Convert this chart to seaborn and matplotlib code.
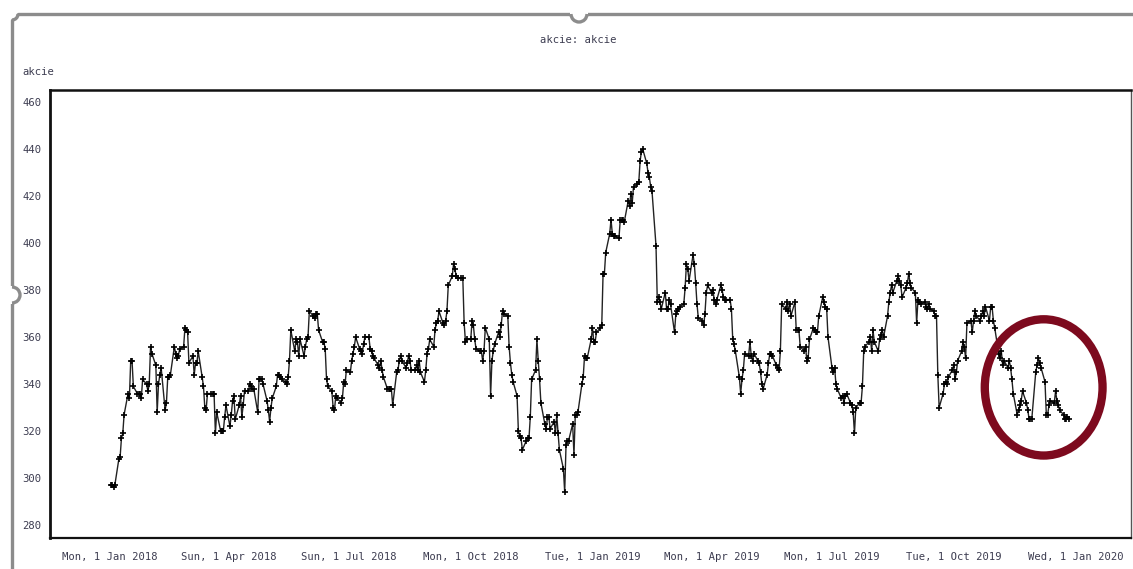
import pandas as pd
import numpy as np
import matplotlib
matplotlib.use("Agg")
import matplotlib.pyplot as plt
import matplotlib.dates as mdates
from matplotlib.patches import Ellipse, Arc, Rectangle
from matplotlib.lines import Line2D
import seaborn as sns

# Daily closing values, business days from 2 Jan 2018
seg_2018_h1 = [
    297, 297, 296, 297, 308, 309, 317, 319, 327, 336,
    334, 350, 350, 339, 336, 336, 336, 334, 342, 340,
    337, 340, 356, 353, 348, 328, 340, 344, 347, 329,
    332, 343, 343, 344, 356, 353, 351, 352, 355, 356,
    364, 363, 362, 349, 352, 344, 349, 349, 354, 343,
    339, 330, 329, 336, 336, 336, 336, 319, 328, 320,
    320, 320, 326, 331, 322, 327, 333, 335, 325, 331,
    335, 326, 331, 337, 337, 340, 339, 338, 338, 328,
    342, 342, 342, 340, 333, 329, 324, 330, 334, 339,
    344, 344, 343, 342, 341, 340, 343, 350, 363, 354,
    359, 358, 352, 359, 352, 356, 359, 360, 371, 369,
    368, 370, 370, 363, 358, 358, 355, 342, 339, 337,
    330, 329,
]
seg_2018_h2 = [
    335, 334, 332, 334, 341, 340, 346, 345, 350, 353,
    356, 360, 355, 354, 353, 357, 360, 360, 355, 354,
    352, 351, 348, 347, 350, 346, 343, 338, 338, 338,
    338, 331, 345, 346, 350, 352, 350, 347, 349, 352,
    350, 346, 346, 348, 346, 350, 345, 341, 346, 353,
    355, 359, 356, 363, 366, 367, 371, 366, 365, 367,
    371, 382, 386, 391, 389, 386, 385, 385, 385, 366,
    358, 359, 359, 367, 365, 359, 355, 354, 354, 350,
    354, 364, 359, 335, 350, 354, 357, 362, 360, 365,
    371, 370, 369, 356, 349, 344, 341, 335, 320, 318,
    317, 312, 316, 317, 317, 326, 342, 346, 359, 350,
    342, 332, 323, 321, 326, 326, 321, 324, 319, 327,
    319, 312, 304, 294, 314, 316, 316, 323, 310, 327,
    327, 328, 340, 343, 352, 351,
]
seg_2019_h1 = [
    351, 359, 364, 358, 358, 362, 364, 365, 387, 387,
    396, 404, 410, 404, 403, 403, 402, 410, 410, 410,
    409, 418, 416, 421, 417, 424, 425, 426, 435, 439,
    440, 434, 430, 428, 424, 422, 399, 375, 377, 375,
    372, 379, 372, 372, 376, 374, 362, 370, 371, 372,
    373, 374, 381, 391, 389, 384, 395, 391, 383, 374,
    368, 367, 365, 370, 379, 382, 379, 380, 376, 374,
    376, 382, 380, 377, 376, 376, 376, 372, 359, 357,
    354, 343, 336, 342, 346, 353, 352, 358, 352, 350,
    353, 350, 349, 345, 340, 338, 344, 349, 353, 353,
    352, 348, 347, 346, 354, 374, 372, 375, 371, 374,
    369, 375, 363, 363, 363, 356, 354, 356, 350, 351,
    359, 364, 363, 362, 362, 369, 377, 375, 373, 372,
    360, 347, 345,
]
seg_2019_h2 = [
    347, 340, 338, 334, 335, 332, 335, 336, 332, 331,
    328, 319, 330, 332, 332, 339, 354, 356, 358, 360,
    354, 363, 358, 354, 359, 361, 363, 360, 369, 375,
    379, 382, 379, 384, 386, 384, 382, 377, 381, 383,
    387, 383, 381, 379, 366, 376, 375, 374, 375, 373,
    372, 374, 372, 371, 369, 369, 344, 330, 336, 340,
    341, 340, 343, 346, 348, 342, 345, 350, 354, 358,
    356, 351, 366, 367, 362, 367, 371, 369, 367, 369,
    371, 369, 373, 367, 373, 373, 367, 364, 353, 351,
    354, 348, 350, 347, 350, 347, 342, 336, 327, 329,
    331, 333, 337, 332, 329, 325, 325, 325, 345, 348,
    351, 349, 347, 341, 327, 327, 331, 333, 332, 337,
    333, 331, 329, 327, 325, 325, 326, 325,
]
akcie_values = seg_2018_h1 + seg_2018_h2 + seg_2019_h1 + seg_2019_h2
start_date = "2018-01-02"

y_ticks = [280, 300, 320, 340, 360, 380, 400, 420, 440, 460]
title_text = "akcie: akcie"
ylabel_text = "akcie"

# highlighted region (red ring)
ring_center_date = "2019-12-08"
ring_center_value = 338.6
ring_width_days = 89
ring_height_value = 58

df = pd.DataFrame({
    "date": pd.bdate_range(start_date, periods=len(akcie_values)),
    "akcie": akcie_values,
})

sns.set_style("white")
plt.rcParams["font.family"] = ["DejaVu Sans Mono"]

fig = plt.figure(figsize=(11.33, 5.69), dpi=100)
ax = fig.add_axes([50 / 1133, 1 - 538 / 569, 1081 / 1133, 448 / 569])

sns.lineplot(data=df, x="date", y="akcie", ax=ax, color="#222222", linewidth=1.0,
             marker="+", markersize=4.5, markeredgewidth=1.2, markeredgecolor="black")

ax.set_xlim(pd.Timestamp("2017-11-17"), pd.Timestamp("2020-02-12"))
ax.set_ylim(274.5, 465.2)
ax.set_yticks(y_ticks)
ax.xaxis.set_major_locator(mdates.MonthLocator(bymonth=[1, 4, 7, 10]))
ax.xaxis.set_major_formatter(mdates.DateFormatter("%a, %-d %b %Y"))
ax.set_xlabel("")
ax.set_ylabel("")
ax.tick_params(axis="both", direction="out", length=3, width=1.8, color="#222222",
               labelsize=7.6, labelcolor="#3c3c50", pad=3)
ax.tick_params(axis="x", pad=7)

for side in ["left", "bottom", "top"]:
    ax.spines[side].set_visible(True)
    ax.spines[side].set_color("#111111")
ax.spines["left"].set_linewidth(2.0)
ax.spines["bottom"].set_linewidth(1.6)
ax.spines["top"].set_linewidth(1.8)
ax.spines["right"].set_color("#555555")
ax.spines["right"].set_linewidth(1.0)

# red ring around the end of 2019
ring = Ellipse((mdates.date2num(pd.Timestamp(ring_center_date)), ring_center_value),
               width=ring_width_days, height=ring_height_value,
               fill=False, edgecolor="#7d0a1e", linewidth=6, zorder=5)
ax.add_patch(ring)

fig.text(0.51, 1 - 40 / 569, title_text, ha="center", va="center", fontsize=7.6, color="#3c3c50")
fig.text(22 / 1133, 1 - 72 / 569, ylabel_text, ha="left", va="center", fontsize=7.6, color="#3c3c50")

# grey outer frame with small notches (window decoration)
frame_col = "#8c8c8c"
fig.add_artist(Line2D([18 / 1133, 1.0], [1 - 14 / 569] * 2, transform=fig.transFigure,
                      color=frame_col, linewidth=2.4, zorder=2))
fig.add_artist(Line2D([12 / 1133] * 2, [0.0, 1 - 20 / 569], transform=fig.transFigure,
                      color=frame_col, linewidth=2.4, zorder=2))
fig.add_artist(Arc((12 / 1133, 1 - 14 / 569), 12 / 1133, 12 / 569, theta1=270, theta2=360,
                   transform=fig.transFigure, color=frame_col, linewidth=2.4, zorder=2))
fig.add_artist(Rectangle((570 / 1133, 1 - 19 / 569), 18 / 1133, 9 / 569,
                         transform=fig.transFigure, facecolor="white", edgecolor="none", zorder=3))
fig.add_artist(Arc((579 / 1133, 1 - 14 / 569), 16 / 1133, 16 / 569, theta1=180, theta2=360,
                   transform=fig.transFigure, color=frame_col, linewidth=2.4, zorder=4))
fig.add_artist(Rectangle((8 / 1133, 1 - 304 / 569), 8 / 1133, 18 / 569,
                         transform=fig.transFigure, facecolor="white", edgecolor="none", zorder=3))
fig.add_artist(Arc((12 / 1133, 1 - 295 / 569), 16 / 1133, 16 / 569, theta1=270, theta2=90,
                   transform=fig.transFigure, color=frame_col, linewidth=2.4, zorder=4))

fig.savefig("out.png", dpi=100)
